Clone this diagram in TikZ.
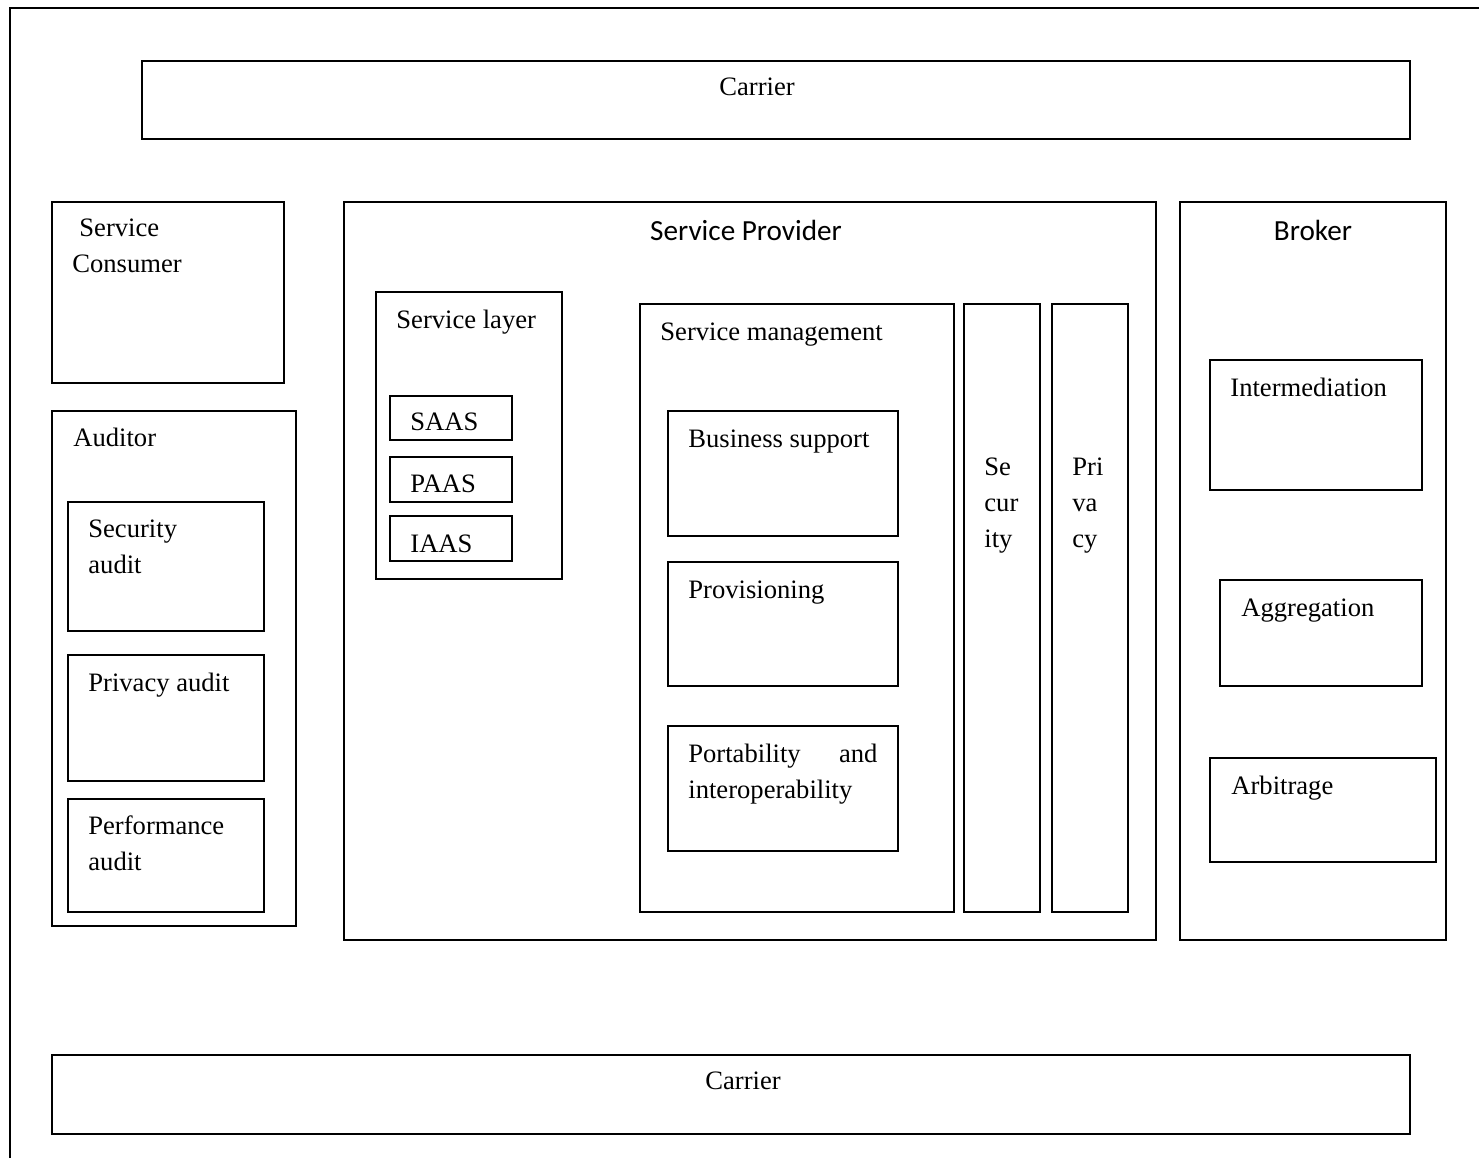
\documentclass[tikz,border=0pt]{standalone}
\usepackage{fontspec}
\setmainfont{Liberation Serif}
\newfontfamily\calib{Carlito}
\usetikzlibrary{fit}
\begin{document}
\begin{tikzpicture}[x=0.5pt,y=-0.5pt,
  box/.style={draw,line width=1.15pt,inner sep=0pt},
  lbl/.style={inner sep=0pt,anchor=base west,align=left,font=\fontsize{13.3}{18}\selectfont},
  clbl/.style={inner sep=0pt,anchor=base,font=\fontsize{13.3}{18}\selectfont},
  slbl/.style={inner sep=0pt,anchor=base,font=\calib\fontsize{14.6}{18}\selectfont}]
\useasboundingbox (0,0) rectangle (1479,1158);
% outer frame (top and left edges visible)
\coordinate (fbl) at (10,1158);
\coordinate (ftl) at (10,8);
\coordinate (ftr) at (1479,8);
\draw[line width=1.4pt] (fbl) -- (ftl) -- (ftr);
% carriers
\node[box,fit={(142,61)(1410,139)}] (carrierTop) {};
\node[clbl] (carrierTopT) at (757,95) {Carrier};
\node[box,fit={(52,1055)(1410,1134)}] (carrierBot) {};
\node[clbl] (carrierBotT) at (743,1089) {Carrier};
% service consumer
\node[box,fit={(52,202)(284,383)}] (consumer) {};
\node[lbl] (consumerT) at (72,272) {\hspace*{3.5pt}Service\\Consumer};
% auditor
\node[box,fit={(52,411)(296,926)}] (auditor) {};
\node[lbl] (auditorT) at (73,446) {Auditor};
\node[box,fit={(68,502)(264,631)}] (secaudit) {};
\node[lbl] (secauditT) at (88,573) {Security\\audit};
\node[box,fit={(68,655)(264,781)}] (privaudit) {};
\node[lbl] (privauditT) at (88,691) {Privacy audit};
\node[box,fit={(68,799)(264,912)}] (perfaudit) {};
\node[lbl] (perfauditT) at (88,870) {Performance\\audit};
% service provider
\node[box,fit={(344,202)(1156,940)}] (provider) {};
\node[slbl] (providerT) at (746,240) {Service Provider};
\node[box,fit={(376,292)(562,579)}] (layer) {};
\node[lbl] (layerT) at (396,328) {Service layer};
\node[box,fit={(390,396)(512,440)}] (saas) {};
\node[lbl] (saasT) at (410,430) {SAAS};
\node[box,fit={(390,457)(512,502)}] (paas) {};
\node[lbl] (paasT) at (410,492) {PAAS};
\node[box,fit={(390,516)(512,561)}] (iaas) {};
\node[lbl] (iaasT) at (410,552) {IAAS};
\node[box,fit={(640,304)(954,912)}] (mgmt) {};
\node[lbl] (mgmtT) at (660,340) {Service management};
\node[box,fit={(668,411)(898,536)}] (business) {};
\node[lbl] (businessT) at (688,447) {Business support};
\node[box,fit={(668,562)(898,686)}] (prov) {};
\node[lbl] (provT) at (688,598) {Provisioning};
\node[box,fit={(668,726)(898,851)}] (port) {};
\node[lbl] (portT) at (688,798) {\makebox[94.5pt][l]{Portability\hfill and}\\interoperability};
\node[box,fit={(964,304)(1040,912)}] (security) {};
\node[lbl] (securityT) at (984,547) {Se\\cur\\ity};
\node[box,fit={(1052,304)(1128,912)}] (privacy) {};
\node[lbl] (privacyT) at (1072,547) {Pri\\va\\cy};
% broker
\node[box,fit={(1180,202)(1446,940)}] (broker) {};
\node[slbl] (brokerT) at (1313,240) {Broker};
\node[box,fit={(1210,360)(1422,490)}] (inter) {};
\node[lbl] (interT) at (1230,396) {Intermediation};
\node[box,fit={(1220,580)(1422,686)}] (aggr) {};
\node[lbl] (aggrT) at (1241,616) {Aggregation};
\node[box,fit={(1210,758)(1436,862)}] (arb) {};
\node[lbl] (arbT) at (1231,794) {Arbitrage};
\end{tikzpicture}
\end{document}
